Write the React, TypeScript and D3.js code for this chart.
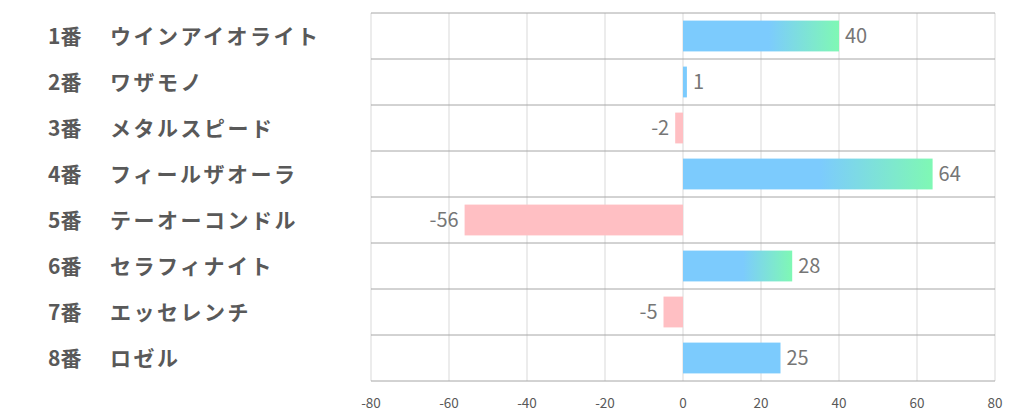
import React from "react";
import * as d3 from "d3";

const numbers = ["1番", "2番", "3番", "4番", "5番", "6番", "7番", "8番"];
const names = ["ウインアイオライト", "ワザモノ", "メタルスピード", "フィールザオーラ", "テーオーコンドル", "セラフィナイト", "エッセレンチ", "ロゼル"];
const values = [40, 1, -2, 64, -56, 28, -5, 25];
const ticks = [-80, -60, -40, -20, 0, 20, 40, 60, 80];

const W = 1022;
const H = 417;
const left = 371;
const right = 995;
const top = 13;
const bottom = 381;

export default function App() {
  const x = d3.scaleLinear().domain([-80, 80]).range([left, right]);
  const y = d3.scaleBand<number>().domain(d3.range(values.length)).range([top, bottom]).paddingInner(0.33).paddingOuter(0.165);
  const rowH = (bottom - top) / values.length;
  const top3 = [...values].filter(v => v > 0).sort((a, b) => b - a).slice(0, 3);
  const font = "'Noto Sans CJK JP', 'Noto Sans', sans-serif";
  return (
    <div style={{ position: "absolute", left: 0, top: 0 }}>
      <svg width={W} height={H} style={{ display: "block" }}>
        <defs>
          <linearGradient id="grad" x1="0" x2="1" y1="0" y2="0">
            <stop offset="0" stopColor="#7ccbfd" />
            <stop offset="0.55" stopColor="#7ccbfd" />
            <stop offset="1" stopColor="#7ff8b4" />
          </linearGradient>
        </defs>
        <rect width={W} height={H} fill="#fff" />
        {ticks.map(t => (
          <line key={t} x1={x(t)} x2={x(t)} y1={top} y2={bottom} stroke="#d9d9d9" strokeWidth={1} />
        ))}
        {d3.range(values.length + 1).map(i => (
          <line key={i} x1={left} x2={right} y1={top + i * rowH} y2={top + i * rowH} stroke="#a6a6a6" strokeWidth={1} />
        ))}
        {values.map((v, i) => {
          const x0 = x(Math.min(0, v));
          const x1 = x(Math.max(0, v));
          const fill = v < 0 ? "#ffbfc3" : top3.includes(v) ? "url(#grad)" : "#7ccbfd";
          return (
            <g key={i}>
              <rect x={x0} y={y(i)} width={Math.max(1, x1 - x0)} height={y.bandwidth()} fill={fill} />
              <text
                x={v < 0 ? x0 - 6 : x1 + 6}
                y={y(i)! + y.bandwidth() / 2}
                dy="0.36em"
                textAnchor={v < 0 ? "end" : "start"}
                fontFamily={font}
                fontSize={20}
                fill="#767676"
              >
                {v}
              </text>
            </g>
          );
        })}
        {ticks.map(t => (
          <text key={t} x={x(t)} y={403} dy="0.36em" textAnchor="middle" fontFamily={font} fontSize={13.5} fill="#595959">
            {t}
          </text>
        ))}
        {values.map((v, i) => (
          <g key={i} fontFamily={font} fontSize={21} fontWeight="bold" fill="#595959">
            <text x={48} y={top + rowH * (i + 0.5)} dy="0.36em">{numbers[i]}</text>
            <text x={110} y={top + rowH * (i + 0.5)} dy="0.36em" letterSpacing={2.5}>{names[i]}</text>
          </g>
        ))}
      </svg>
    </div>
  );
}
